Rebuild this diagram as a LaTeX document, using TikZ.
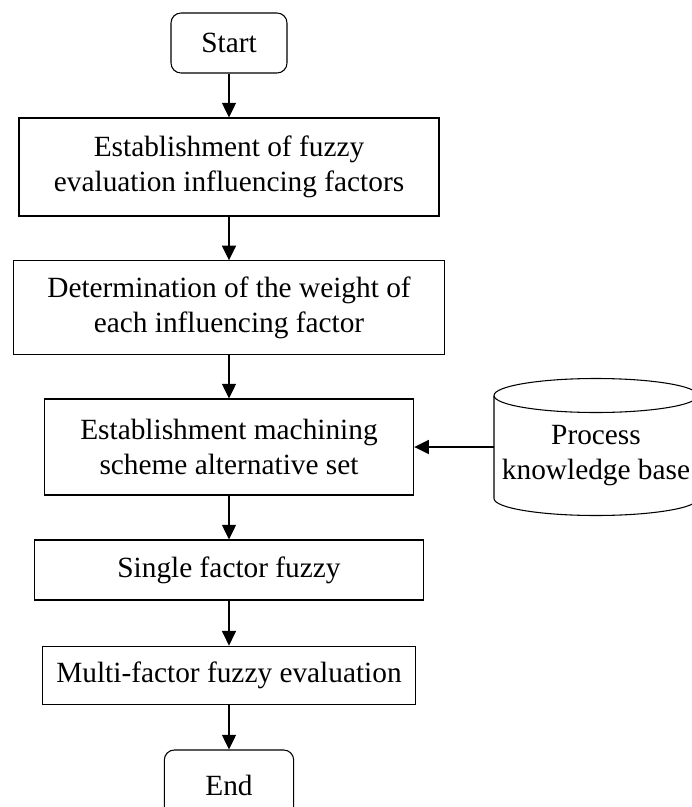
\documentclass[tikz,border=0pt]{standalone}
\usepackage{fontspec}
\setmainfont{Liberation Serif}
\usetikzlibrary{arrows.meta}

\begin{document}
\begin{tikzpicture}[x=0.75pt,y=-0.75pt,
    every node/.style={font=\fontsize{22}{26.25}\selectfont,align=center},
    stepbox/.style={draw,line width=0.8pt,inner sep=2pt},
    termbox/.style={draw,line width=0.8pt,rounded corners=7.5pt},
    flow/.style={-{Triangle[length=11pt,width=10.5pt]},line width=1.1pt}]
  \useasboundingbox (0,0) rectangle (692,807);
  \node[termbox,minimum width=87pt,minimum height=45pt] (start) at (229,43) {Start};
  \node[stepbox,minimum width=315pt,minimum height=73.5pt] (factors) at (229,167)
    {Establishment of fuzzy\\evaluation influencing factors};
  \node[stepbox,minimum width=323pt,minimum height=70pt] (weight) at (229,307.5)
    {Determination of the weight of\\each influencing factor};
  \node[stepbox,minimum width=277pt,minimum height=72pt] (plan) at (229,447)
    {Establishment machining\\scheme alternative set};
  \node[stepbox,minimum width=292pt,minimum height=45pt] (single) at (229,570)
    {Single factor fuzzy};
  \node[stepbox,minimum width=280pt,minimum height=44pt] (multi) at (229,675.5)
    {Multi-factor fuzzy evaluation};
  \node[termbox,minimum width=97pt,minimum height=52.5pt] (stop) at (229,785) {End};
  % knowledge base cylinder
  \node[minimum width=153pt,minimum height=77.25pt,inner sep=0pt,outer sep=0pt] (kb) at (596,447) {};
  \draw[line width=0.8pt] (kb.north west) -- (kb.south west)
    arc[start angle=180,end angle=360,x radius=76.5pt,y radius=12.75pt] -- (kb.north east);
  \draw[line width=0.8pt] (kb.north) ellipse[x radius=76.5pt,y radius=12.75pt];
  \node (kbtext) at (596,456) {Process\\knowledge base};
  \begin{scope}[flow]
    \draw (start) to (factors);
    \draw (factors) to (weight);
    \draw (weight) to (plan);
    \draw (plan) to (single);
    \draw (single) to (multi);
    \draw (multi) to (stop);
    \draw (kb.west) to (plan.east);
  \end{scope}
\end{tikzpicture}
\end{document}
